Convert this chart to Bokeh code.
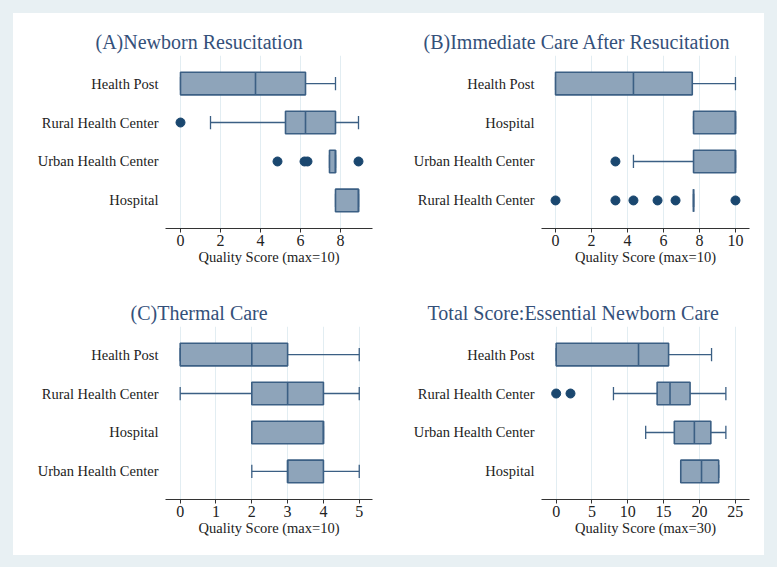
from bokeh.plotting import figure
from bokeh.layouts import gridplot, column
from bokeh.models import FactorRange, Range1d, FixedTicker, ColumnDataSource
from bokeh.transform import dodge
from bokeh.embed import file_html
from bokeh.resources import INLINE

FONT = "Liberation Serif"
BOX_FILL = "#8ea4ba"
BOX_LINE = "#3b5f84"
MARK = "#1a476f"
GRID = "#e2edf2"
TITLE_C = "#34507a"
OUTER_BG = "#e8f0f3"

# ---- Panel A: Newborn Resucitation ----
a_title = "(A)Newborn Resucitation"
a_xlabel = "Quality Score (max=10)"
a_cats = ["Health Post", "Rural Health Center", "Urban Health Center", "Hospital"]
a_lo = [0.0, 1.5, 7.45, 7.75]
a_q1 = [0.0, 5.25, 7.45, 7.75]
a_med = [3.75, 6.25, 7.75, 8.9]
a_q3 = [6.25, 7.75, 7.75, 8.9]
a_hi = [7.75, 8.9, 7.75, 8.9]
a_out_cat = ["Rural Health Center", "Urban Health Center", "Urban Health Center",
             "Urban Health Center", "Urban Health Center"]
a_out_val = [0.0, 4.85, 6.2, 6.35, 8.9]
a_ticks = [0, 2, 4, 6, 8]

# ---- Panel B: Immediate Care After Resucitation ----
b_title = "(B)Immediate Care After Resucitation"
b_xlabel = "Quality Score (max=10)"
b_cats = ["Health Post", "Hospital", "Urban Health Center", "Rural Health Center"]
b_lo = [0.0, 7.67, 4.33, 7.67]
b_q1 = [0.0, 7.67, 7.67, 7.67]
b_med = [4.33, 10.0, 10.0, 7.67]
b_q3 = [7.6, 10.0, 10.0, 7.67]
b_hi = [10.0, 10.0, 10.0, 7.67]
b_out_cat = ["Urban Health Center", "Rural Health Center", "Rural Health Center",
             "Rural Health Center", "Rural Health Center", "Rural Health Center",
             "Rural Health Center"]
b_out_val = [3.33, 0.0, 3.33, 4.33, 5.67, 6.67, 10.0]
b_ticks = [0, 2, 4, 6, 8, 10]

# ---- Panel C: Thermal Care ----
c_title = "(C)Thermal Care"
c_xlabel = "Quality Score (max=10)"
c_cats = ["Health Post", "Rural Health Center", "Hospital", "Urban Health Center"]
c_lo = [0, 0, 2, 2]
c_q1 = [0, 2, 2, 3]
c_med = [2, 3, 4, 3]
c_q3 = [3, 4, 4, 4]
c_hi = [5, 5, 4, 5]
c_out_cat = []
c_out_val = []
c_ticks = [0, 1, 2, 3, 4, 5]

# ---- Panel D: Total Score ----
d_title = "Total Score:Essential Newborn Care"
d_xlabel = "Quality Score (max=30)"
d_cats = ["Health Post", "Rural Health Center", "Urban Health Center", "Hospital"]
d_lo = [0.0, 8.0, 12.5, 17.4]
d_q1 = [0.0, 14.1, 16.5, 17.4]
d_med = [11.5, 15.9, 19.3, 20.3]
d_q3 = [15.7, 18.7, 21.6, 22.7]
d_hi = [21.7, 23.7, 23.7, 22.7]
d_out_cat = ["Rural Health Center", "Rural Health Center"]
d_out_val = [0.0, 2.0]
d_ticks = [0, 5, 10, 15, 20, 25]


def make_panel(title, xlabel, cats, lo, q1, med, q3, hi, out_cat, out_val,
               ticks, xr, width, b_left, b_right, title_off):
    yr = FactorRange(factors=list(reversed(cats)), range_padding=0.11,
                     range_padding_units="percent")
    p = figure(width=width, height=271, y_range=yr, x_range=Range1d(*xr),
               output_backend="svg", toolbar_location=None,
               min_border_left=b_left, min_border_right=b_right,
               min_border_top=42, min_border_bottom=56)
    p.title.text = title
    p.title.align = "left"
    p.title.offset = title_off
    p.title.text_font = FONT
    p.title.text_font_size = "20px"
    p.title.text_font_style = "normal"
    p.title.text_color = TITLE_C
    p.title.standoff = 6
    p.background_fill_color = "white"
    p.border_fill_color = "white"
    p.outline_line_color = None

    src = ColumnDataSource(dict(cat=cats, lo=lo, q1=q1, med=med, q3=q3, hi=hi))
    # whiskers
    p.segment(x0="lo", x1="q1", y0="cat", y1="cat", source=src,
              line_color=BOX_LINE, line_width=1.3)
    p.segment(x0="q3", x1="hi", y0="cat", y1="cat", source=src,
              line_color=BOX_LINE, line_width=1.3)
    # caps
    for f in ("lo", "hi"):
        p.segment(x0=f, x1=f, y0=dodge("cat", -0.17, range=yr),
                  y1=dodge("cat", 0.17, range=yr), source=src,
                  line_color=BOX_LINE, line_width=1.3)
    # boxes
    p.hbar(y="cat", left="q1", right="q3", height=0.58, source=src,
           fill_color=BOX_FILL, line_color=BOX_LINE, line_width=1.6)
    # medians
    p.segment(x0="med", x1="med", y0=dodge("cat", -0.29, range=yr),
              y1=dodge("cat", 0.29, range=yr), source=src,
              line_color=BOX_LINE, line_width=1.6)
    # outliers
    if out_val:
        p.scatter(x=out_val, y=out_cat, size=9, color=MARK)

    p.xaxis.ticker = FixedTicker(ticks=ticks)
    p.xaxis.axis_label = xlabel
    p.xaxis.axis_label_text_font = FONT
    p.xaxis.axis_label_text_font_size = "14.5px"
    p.xaxis.axis_label_text_font_style = "normal"
    p.xaxis.axis_label_text_color = "#222222"
    p.xaxis.axis_label_standoff = 0
    p.xaxis.major_label_text_font = FONT
    p.xaxis.major_label_text_font_size = "16px"
    p.xaxis.major_label_text_color = "#222222"
    p.xaxis.major_label_standoff = 2
    p.xaxis.axis_line_color = "#333333"
    p.xaxis.major_tick_line_color = "#333333"
    p.xaxis.major_tick_out = 4
    p.xaxis.major_tick_in = 0
    p.xaxis.minor_tick_line_color = None

    p.yaxis.axis_line_color = None
    p.yaxis.major_tick_line_color = None
    p.yaxis.minor_tick_line_color = None
    p.yaxis.major_label_text_font = FONT
    p.yaxis.major_label_text_font_size = "14.5px"
    p.yaxis.major_label_text_color = "#222222"
    p.yaxis.major_label_standoff = 1

    p.xgrid.grid_line_color = GRID
    p.xgrid.grid_line_width = 1
    p.ygrid.grid_line_color = None
    return p


pa = make_panel(a_title, a_xlabel, a_cats, a_lo, a_q1, a_med, a_q3, a_hi,
                a_out_cat, a_out_val, a_ticks, (-0.75, 9.6), 375, 152, 16, -70)
pb = make_panel(b_title, b_xlabel, b_cats, b_lo, b_q1, b_med, b_q3, b_hi,
                b_out_cat, b_out_val, b_ticks, (-0.78, 10.78), 376, 150, 15, -118)
pc = make_panel(c_title, c_xlabel, c_cats, c_lo, c_q1, c_med, c_q3, c_hi,
                c_out_cat, c_out_val, c_ticks, (-0.41, 5.37), 375, 152, 16, -35)
pd_ = make_panel(d_title, d_xlabel, d_cats, d_lo, d_q1, d_med, d_q3, d_hi,
                 d_out_cat, d_out_val, d_ticks, (-2.05, 27.0), 376, 153, 15, -114)

grid = gridplot([[pa, pb], [pc, pd_]], toolbar_location=None)
page = column(grid, styles={"background-color": "white",
                            "border-style": "solid",
                            "border-color": OUTER_BG,
                            "border-width": "13px 13px 12px 13px"})

open("out.html", "w").write(file_html(page, INLINE))
